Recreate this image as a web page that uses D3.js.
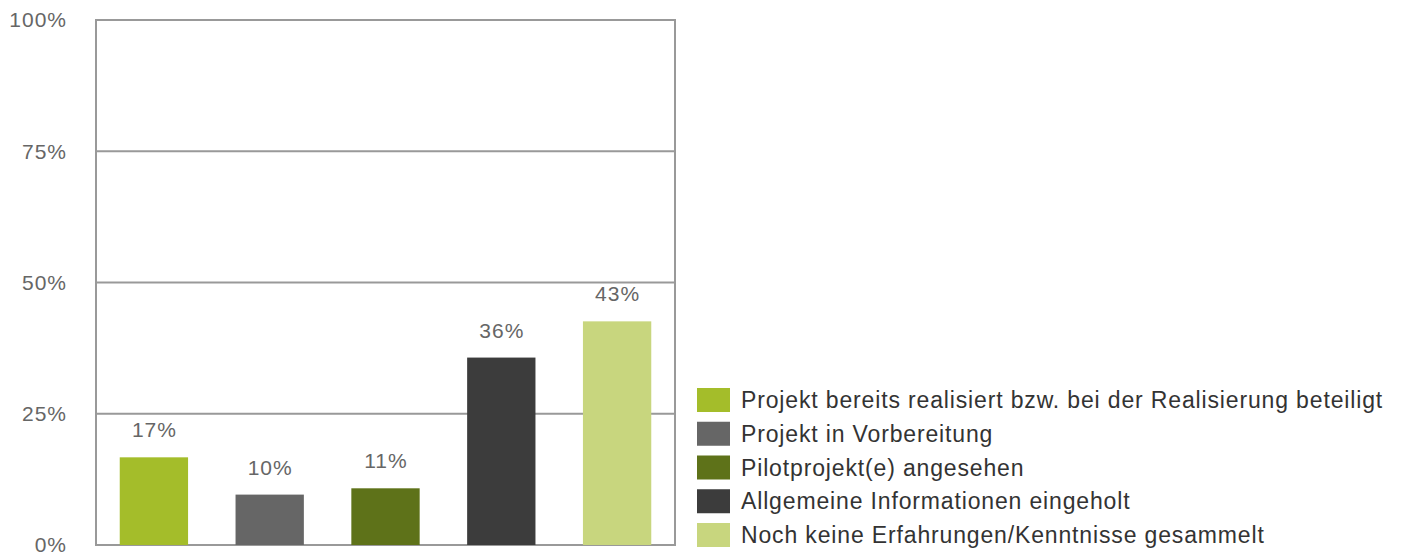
<!DOCTYPE html>
<html>
<head>
<meta charset="utf-8">
<script src="https://cdn.jsdelivr.net/npm/d3@7"></script>
<style>
  body { margin: 0; background: #fff; }
  svg { display: block; font-family: "Liberation Sans", Arial, sans-serif; }
</style>
</head>
<body>
<div id="chart"></div>
<script>
// data
const categories = [
  "Projekt bereits realisiert bzw. bei der Realisierung beteiligt",
  "Projekt in Vorbereitung",
  "Pilotprojekt(e) angesehen",
  "Allgemeine Informationen eingeholt",
  "Noch keine Erfahrungen/Kenntnisse gesammelt"
];
const values = [0.167, 0.096, 0.108, 0.357, 0.426];
const colors = ["#a4bd2a", "#666666", "#5e7219", "#3c3c3c", "#c8d67e"];
const yTicks = [0, 0.25, 0.5, 0.75, 1];

const W = 1403, H = 556;
const margin = {top: 20, right: 728, bottom: 11, left: 96};
const width = W - margin.left - margin.right;
const height = H - margin.top - margin.bottom;

const pct = d3.format(".0%");

const svg = d3.select("#chart").append("svg")
  .attr("width", W)
  .attr("height", H);

const g = svg.append("g")
  .attr("transform", `translate(${margin.left},${margin.top})`);

const x = d3.scaleBand()
  .domain(categories)
  .range([0, width])
  .paddingInner(0.41)
  .paddingOuter(0.205);

const y = d3.scaleLinear()
  .domain([0, 1])
  .range([height, 0]);

// gridlines
g.append("g")
  .selectAll("line")
  .data(yTicks)
  .join("line")
    .attr("x1", 0)
    .attr("x2", width)
    .attr("y1", d => y(d))
    .attr("y2", d => y(d))
    .attr("stroke", "#999")
    .attr("stroke-width", 2);

// frame
g.append("rect")
  .attr("width", width)
  .attr("height", height)
  .attr("fill", "none")
  .attr("stroke", "#999")
  .attr("stroke-width", 2);

// y axis labels
g.append("g")
  .selectAll("text")
  .data(yTicks)
  .join("text")
    .attr("x", -29)
    .attr("y", d => y(d))
    .attr("dy", "0.35em")
    .attr("text-anchor", "end")
    .attr("fill", "#666")
    .attr("font-size", 21)
    .attr("letter-spacing", 1)
    .text(d => pct(d));

// bars
g.append("g")
  .selectAll("rect")
  .data(values)
  .join("rect")
    .attr("x", (d, i) => x(categories[i]))
    .attr("y", d => y(d))
    .attr("width", x.bandwidth())
    .attr("height", d => height - y(d))
    .attr("fill", (d, i) => colors[i]);

// value labels
g.append("g")
  .selectAll("text")
  .data(values)
  .join("text")
    .attr("x", (d, i) => x(categories[i]) + x.bandwidth() / 2 + 0.5)
    .attr("y", d => y(d) - 20)
    .attr("text-anchor", "middle")
    .attr("fill", "#666")
    .attr("font-size", 21)
    .attr("letter-spacing", 1)
    .text(d => pct(d));

// legend
const legend = svg.append("g")
  .attr("transform", "translate(697,388)");

const item = legend.selectAll("g")
  .data(categories)
  .join("g")
    .attr("transform", (d, i) => `translate(0,${i * 33.75})`);

item.append("rect")
  .attr("width", 33)
  .attr("height", 24)
  .attr("fill", (d, i) => colors[i]);

item.append("text")
  .attr("x", 44)
  .attr("y", 12)
  .attr("dy", "0.35em")
  .attr("fill", "#333")
  .attr("font-size", 23)
  .attr("letter-spacing", 0.85)
  .text(d => d);
</script>
</body>
</html>
